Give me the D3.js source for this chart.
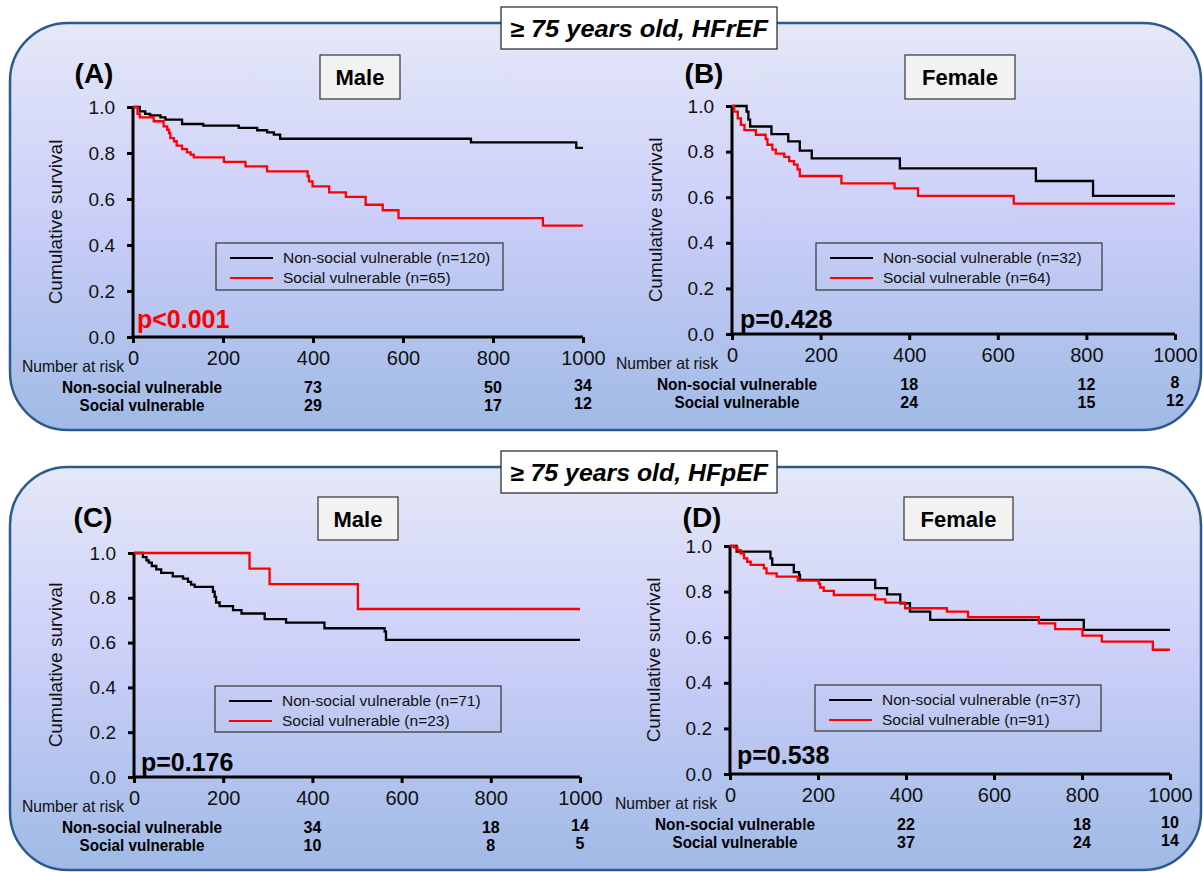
<!DOCTYPE html>
<html>
<head>
<meta charset="utf-8">
<script src="https://cdn.jsdelivr.net/npm/d3@7"></script>
<style>
  body { margin: 0; background: #fff; }
  svg text { font-family: Arial, "Liberation Sans", sans-serif; }
</style>
</head>
<body>
<div id="chart-area"></div>
<script>

var width = 1203, height = 872;

// axis ticks
var dayTicks = [0, 200, 400, 600, 800, 1000];
var survTicks = [0, 0.2, 0.4, 0.6, 0.8, 1.0];
var riskDays = [400, 800, 1000];

// (A) >=75, HFrEF, male  [day, survival]
var aNonSocial = [[0,1],[15,0.981],[27,0.970],[38,0.964],[61,0.955],[72,0.945],[109,0.926],[156,0.919],
    [235,0.909],[276,0.899],[298,0.890],[313,0.880],[327,0.862],[751,0.846],[985,0.822]];
var aSocial = [[0,1],[10,0.97],[15,0.955],[46,0.938],[68,0.916],[76,0.901],[80,0.887],[83,0.865],[91,0.851],
    [97,0.832],[109,0.817],[120,0.803],[128,0.793],[135,0.781],[202,0.761],[250,0.742],[298,0.720],
    [388,0.699],[391,0.677],[399,0.655],[436,0.629],[473,0.609],[517,0.575],[555,0.551],[590,0.517],[911,0.484]];
var aRiskNon = [73, 50, 34];
var aRiskSoc = [29, 17, 12];
var aN = [120, 65];

// (B) >=75, HFrEF, female
var bNonSocial = [[0,1],[33,0.975],[37,0.94],[41,0.910],[89,0.877],[127,0.845],[153,0.804],[180,0.770],
    [379,0.726],[686,0.671],[815,0.606]];
var bSocial = [[0,1],[5,0.975],[13,0.946],[20,0.917],[28,0.894],[54,0.874],[76,0.855],[80,0.830],[91,0.809],
    [99,0.791],[118,0.777],[129,0.758],[140,0.743],[148,0.722],[153,0.693],[247,0.661],[367,0.639],
    [420,0.606],[636,0.572]];
var bRiskNon = [18, 12, 8];
var bRiskSoc = [24, 15, 12];
var bN = [32, 64];

// (C) >=75, HFpEF, male
var cNonSocial = [[0,1],[20,0.982],[28,0.967],[33,0.957],[40,0.942],[50,0.927],[61,0.911],[87,0.896],
    [110,0.886],[121,0.871],[128,0.859],[136,0.849],[177,0.827],[181,0.804],[184,0.779],[192,0.763],
    [222,0.745],[241,0.730],[293,0.705],[341,0.689],[427,0.664],[562,0.649],[565,0.612]];
var cSocial = [[0,1],[259,0.930],[304,0.861],[502,0.750]];
var cRiskNon = [34, 18, 14];
var cRiskSoc = [10, 8, 5];
var cN = [71, 23];

// (D) >=75, HFpEF, female
var dNonSocial = [[0,1],[15,0.975],[92,0.946],[96,0.917],[145,0.885],[157,0.873],[159,0.851],[330,0.815],
    [357,0.788],[387,0.749],[409,0.712],[455,0.676],[804,0.632]];
var dSocial = [[0,1],[9,0.994],[17,0.982],[24,0.968],[32,0.946],[39,0.931],[47,0.917],[77,0.902],[83,0.880],
    [106,0.866],[154,0.848],[202,0.834],[205,0.818],[213,0.803],[236,0.785],[330,0.766],[353,0.752],
    [398,0.727],[493,0.712],[541,0.688],[702,0.661],[739,0.635],[801,0.607],[845,0.581],[961,0.545]];
var dRiskNon = [22, 18, 10];
var dRiskSoc = [37, 24, 14];
var dN = [37, 91];

var pValues = ["p<0.001", "p=0.428", "p=0.176", "p=0.538"];
var groupNames = ["Non-social vulnerable", "Social vulnerable"];
var headers = ["\u2265 75 years old, HFrEF", "\u2265 75 years old, HFpEF"];

var panels = [
    { tag: "(A)", sex: "Male", non: aNonSocial, soc: aSocial, riskNon: aRiskNon, riskSoc: aRiskSoc, n: aN, p: pValues[0], pColor: "#ff0000",
      xr: [133, 583], yr: [337, 107], tagPos: [94, 83], box: [320, 55, 80, 44], leg: [216, 243, 287, 47], pPos: [137, 328], ylabX: 62, riskX: 142, narX: 124 },
    { tag: "(B)", sex: "Female", non: bNonSocial, soc: bSocial, riskNon: bRiskNon, riskSoc: bRiskSoc, n: bN, p: pValues[1], pColor: "#000",
      xr: [732, 1175], yr: [334, 106], tagPos: [704, 83], box: [905, 55, 110, 44], leg: [816, 243, 286, 47], pPos: [740, 328], ylabX: 662, riskX: 737, narX: 718 },
    { tag: "(C)", sex: "Male", non: cNonSocial, soc: cSocial, riskNon: cRiskNon, riskSoc: cRiskSoc, n: cN, p: pValues[2], pColor: "#000",
      xr: [134, 580], yr: [777, 553], tagPos: [93, 527], box: [318, 497, 80, 43], leg: [215, 686, 286, 46], pPos: [141, 771], ylabX: 62, riskX: 142, narX: 124 },
    { tag: "(D)", sex: "Female", non: dNonSocial, soc: dSocial, riskNon: dRiskNon, riskSoc: dRiskSoc, n: dN, p: pValues[3], pColor: "#000",
      xr: [730, 1170], yr: [774, 546], tagPos: [702, 527], box: [904, 497, 109, 43], leg: [815, 685, 286, 46], pPos: [737, 764], ylabX: 660, riskX: 735, narX: 717 }
];

var svg = d3.select("#chart-area")
    .append("svg")
        .attr("width", width)
        .attr("height", height);

var defs = svg.append("defs");
var grad = defs.append("linearGradient")
    .attr("id", "bg")
    .attr("x1", 0).attr("y1", 0).attr("x2", 0).attr("y2", 1);
grad.append("stop").attr("offset", "0%").attr("stop-color", "#e4e8f6");
grad.append("stop").attr("offset", "45%").attr("stop-color", "#cdd0f9");
grad.append("stop").attr("offset", "100%").attr("stop-color", "#9fbae5");

// rounded background frames
var frames = [[10, 23, 1191, 407], [10, 467, 1191, 403]];
frames.forEach(function(f, i) {
    svg.append("rect")
        .attr("x", f[0]).attr("y", f[1])
        .attr("width", f[2]).attr("height", f[3])
        .attr("rx", 58).attr("ry", 58)
        .attr("fill", "url(#bg)")
        .attr("stroke", "#2d5a8e")
        .attr("stroke-width", 2.5);

    var hx = 501, hy = f[1] - 16;
    svg.append("rect")
        .attr("x", hx).attr("y", hy)
        .attr("width", 276).attr("height", 42)
        .attr("fill", "#fff")
        .attr("stroke", "#222")
        .attr("stroke-width", 1.2);
    svg.append("text")
        .attr("x", hx + 138).attr("y", hy + 30)
        .attr("text-anchor", "middle")
        .attr("font-size", "23px")
        .attr("font-style", "italic")
        .attr("font-weight", "bold")
        .attr("textLength", 258)
        .attr("lengthAdjust", "spacingAndGlyphs")
        .attr("fill", "#000")
        .text(headers[i]);
});

var line = d3.line().curve(d3.curveStepAfter);

panels.forEach(function(p) {
    var x = d3.scaleLinear().domain([0, 1000]).range(p.xr);
    var y = d3.scaleLinear().domain([0, 1]).range(p.yr);
    var g = svg.append("g");

    // tag and sex box
    g.append("text")
        .attr("x", p.tagPos[0]).attr("y", p.tagPos[1])
        .attr("text-anchor", "middle")
        .attr("font-size", "28px")
        .attr("font-weight", "bold")
        .text(p.tag);

    g.append("rect")
        .attr("x", p.box[0]).attr("y", p.box[1])
        .attr("width", p.box[2]).attr("height", p.box[3])
        .attr("fill", "#f2f2f2")
        .attr("stroke", "#333")
        .attr("stroke-width", 1.2);
    g.append("text")
        .attr("x", p.box[0] + p.box[2] / 2).attr("y", p.box[1] + p.box[3] / 2 + 8)
        .attr("text-anchor", "middle")
        .attr("font-size", "22px")
        .attr("font-weight", "bold")
        .text(p.sex);

    // axes
    var yAxisCall = d3.axisLeft(y)
        .tickValues(survTicks)
        .tickSize(6)
        .tickPadding(12)
        .tickFormat(d3.format(".1f"));
    var yAx = g.append("g")
        .attr("transform", "translate(" + p.xr[0] + ",0)")
        .call(yAxisCall);

    var xAxisCall = d3.axisBottom(x)
        .tickValues(dayTicks)
        .tickSize(6)
        .tickPadding(8)
        .tickFormat(d3.format("d"));
    var xAx = g.append("g")
        .attr("transform", "translate(0," + p.yr[0] + ")")
        .call(xAxisCall);

    [yAx, xAx].forEach(function(ax) {
        ax.select(".domain").remove();
        ax.selectAll(".tick line").attr("stroke", "#000").attr("stroke-width", 3);
        ax.selectAll(".tick text")
            .attr("font-family", "Arial, 'Liberation Sans', sans-serif")
            .attr("fill", "#111");
    });
    yAx.selectAll(".tick text").attr("font-size", "19px");
    xAx.selectAll(".tick text").attr("font-size", "20px");

    g.append("line")
        .attr("x1", p.xr[0]).attr("x2", p.xr[0])
        .attr("y1", p.yr[0]).attr("y2", p.yr[1])
        .attr("stroke", "#000").attr("stroke-width", 3);
    g.append("line")
        .attr("x1", p.xr[0]).attr("x2", p.xr[1])
        .attr("y1", p.yr[0]).attr("y2", p.yr[0])
        .attr("stroke", "#000").attr("stroke-width", 3);

    g.append("text")
        .attr("transform", "translate(" + p.ylabX + "," + ((p.yr[0] + p.yr[1]) / 2) + ") rotate(-90)")
        .attr("text-anchor", "middle")
        .attr("font-size", "19px")
        .attr("fill", "#111")
        .text("Cumulative  survival");

    // curves
    var series = [{ d: p.non, c: "#000" }, { d: p.soc, c: "#ff0000" }];
    series.forEach(function(s) {
        var pts = s.d.concat([[1000, s.d[s.d.length - 1][1]]]);
        g.append("path")
            .attr("d", line(pts.map(function(v) { return [x(v[0]), y(v[1])]; })))
            .attr("fill", "none")
            .attr("stroke", s.c)
            .attr("stroke-width", 2.3);
    });

    // legend
    g.append("rect")
        .attr("x", p.leg[0]).attr("y", p.leg[1])
        .attr("width", p.leg[2]).attr("height", p.leg[3])
        .attr("fill", "none")
        .attr("stroke", "#333")
        .attr("stroke-width", 1.2);
    series.forEach(function(s, i) {
        var ly = p.leg[1] + 15 + i * 20;
        g.append("line")
            .attr("x1", p.leg[0] + 14).attr("x2", p.leg[0] + 57)
            .attr("y1", ly).attr("y2", ly)
            .attr("stroke", s.c).attr("stroke-width", 2.2);
        g.append("text")
            .attr("x", p.leg[0] + 67).attr("y", ly + 5)
            .attr("font-size", "15.5px")
            .attr("fill", "#111")
            .text(groupNames[i] + " (n=" + p.n[i] + ")");
    });

    // p value
    g.append("text")
        .attr("x", p.pPos[0]).attr("y", p.pPos[1])
        .attr("font-size", "25px")
        .attr("font-weight", "bold")
        .attr("fill", p.pColor)
        .text(p.p);

    // number at risk
    var y0 = p.yr[0];
    g.append("text")
        .attr("x", p.narX).attr("y", y0 + 35)
        .attr("text-anchor", "end")
        .attr("font-size", "16.5px")
        .attr("textLength", 102)
        .attr("lengthAdjust", "spacingAndGlyphs")
        .attr("fill", "#111")
        .text("Number at risk");

    var rows = [p.riskNon, p.riskSoc];
    rows.forEach(function(r, i) {
        var ry = y0 + 56 + i * 18;
        g.append("text")
            .attr("x", p.riskX).attr("y", ry)
            .attr("text-anchor", "middle")
            .attr("font-size", "16px")
            .attr("font-weight", "bold")
            .attr("textLength", i === 0 ? 160 : 125)
            .attr("lengthAdjust", "spacingAndGlyphs")
            .text(groupNames[i]);
        g.selectAll(null)
            .data(r)
            .enter()
            .append("text")
            .attr("x", function(d, j) { return x(riskDays[j]); })
            .attr("y", function(d, j) { return j === 2 ? ry - 2 : ry; })
            .attr("text-anchor", "middle")
            .attr("font-size", "16px")
            .attr("font-weight", "bold")
            .text(function(d) { return d; });
    });
});

</script>
</body>
</html>
